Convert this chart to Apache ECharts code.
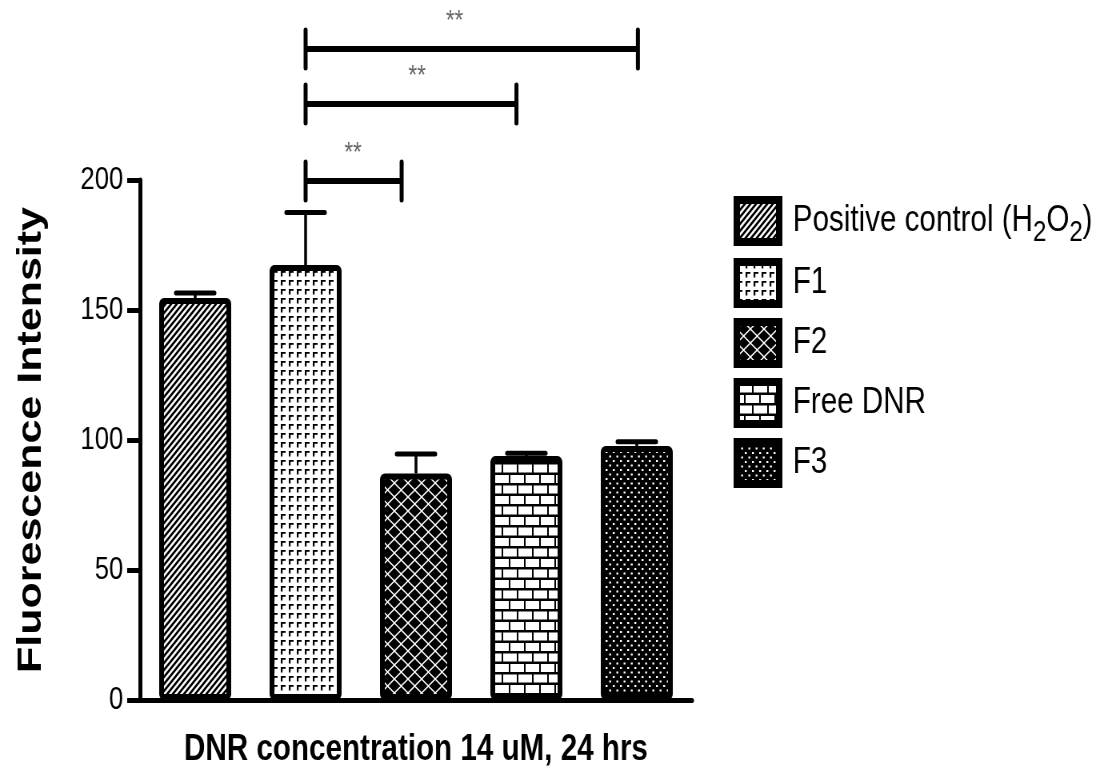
<!DOCTYPE html>
<html><head><meta charset="utf-8">
<script src="https://cdn.jsdelivr.net/npm/echarts@6/dist/echarts.min.js"></script>
<style>
html,body{margin:0;padding:0;background:#fff;overflow:hidden;width:1100px;height:775px}
#wrap{width:1100px;height:775px;overflow:hidden;position:relative}
#chart{width:1375px;height:775px;transform:scaleX(0.8);transform-origin:0 0}
</style></head>
<body><div id="wrap"><div id="chart"></div></div>
<script>
// ---- data ----
const categories = ['Positive control (H2O2)', 'F1', 'F2', 'Free DNR', 'F3'];
const means = [154.6, 167.3, 87.1, 93.8, 97.7];
const sem = [1.9, 20.2, 7.5, 1.1, 1.6];
const yTicks = [0, 50, 100, 150, 200];
// [bracket start (category position), bracket end, bracket level (y value), label, label position]
const comparisons = [
  [1, 1.87, 199.6, '**', 1.43],
  [1, 2.91, 229.2, '**', 2.01],
  [1, 4.01, 250.4, '**', 2.35]
];
const xTitle = 'DNR concentration 14 uM, 24 hrs';
const yTitle = 'Fluorescence Intensity';

// ---- patterns ----
function mk(w, h, draw) {
  const c = document.createElement('canvas'); c.width = w; c.height = h;
  const g = c.getContext('2d'); draw(g, w, h);
  return { image: c, repeat: 'repeat' };
}
const patDiag = mk(7, 7, (g, w, h) => {
  g.fillStyle = '#fff'; g.fillRect(0, 0, w, h);
  g.strokeStyle = '#000'; g.lineWidth = 2.6; g.beginPath();
  for (let k = -1; k <= 1; k++) { g.moveTo(k * w - 1, h + 1); g.lineTo(k * w + w + 1, -1); }
  g.stroke();
});
const patCorner = mk(10, 9, (g, w, h) => {
  g.fillStyle = '#fff'; g.fillRect(0, 0, w, h);
  g.fillStyle = '#000';
  g.fillRect(1, 1, 6, 1.8); g.fillRect(1, 1, 2.2, 5.5);
});
const patDiamond = mk(17, 14, (g, w, h) => {
  g.fillStyle = '#fff'; g.fillRect(0, 0, w, h);
  g.fillStyle = '#000';
  const d = (cx, cy) => { g.beginPath(); g.moveTo(cx, cy - 6.1); g.lineTo(cx + 7.4, cy); g.lineTo(cx, cy + 6.1); g.lineTo(cx - 7.4, cy); g.closePath(); g.fill(); };
  d(8.5, 7); d(0, 0); d(17, 0); d(0, 14); d(17, 14);
});
const patBrick = mk(19, 21, (g, w, h) => {
  g.fillStyle = '#000'; g.fillRect(0, 0, w, h);
  g.fillStyle = '#fff';
  g.fillRect(2, 2.5, 17, 8);
  g.fillRect(0, 13, 9, 8); g.fillRect(11, 13, 8, 8);
});
const patDots = mk(9, 9, (g, w, h) => {
  g.fillStyle = '#000'; g.fillRect(0, 0, w, h);
  g.fillStyle = '#fff';
  g.fillRect(1, 1, 2.4, 2); g.fillRect(5.5, 5.5, 2.4, 2);
});
const patterns = [patDiag, patCorner, patDiamond, patBrick, patDots];

const FONT = '"Liberation Sans", Arial, sans-serif';
const chart = echarts.init(document.getElementById('chart'), null, { renderer: 'canvas' });

const barSeries = categories.map((name, i) => ({
  name, type: 'bar', barWidth: 90, barGap: '-100%',
  data: means.map((v, j) => (j === i ? v : '-')),
  itemStyle: { color: patterns[i], borderColor: '#000', borderWidth: 6, borderRadius: 3 },
  emphasis: { disabled: true }, z: 2
}));

const errSeries = {
  type: 'custom', name: 'sem', silent: true, z: 3,
  data: means.map((v, i) => [i, v, v + sem[i]]),
  renderItem: (params, api) => {
    const x = api.value(0);
    const p0 = api.coord([x, api.value(1)]);
    const p1 = api.coord([x, api.value(2)]);
    return { type: 'group', children: [
      { type: 'line', shape: { x1: p0[0], y1: p0[1], x2: p1[0], y2: p1[1] }, style: { stroke: '#000', lineWidth: 3.5 } },
      { type: 'line', shape: { x1: p1[0] - 24, y1: p1[1], x2: p1[0] + 24, y2: p1[1] }, style: { stroke: '#000', lineWidth: 5, lineCap: 'round' } }
    ] };
  }
};

const sigSeries = {
  type: 'custom', name: 'sig', silent: true, z: 4, clip: false,
  data: comparisons.map(c => [Math.floor(c[0]), c[2]]),
  renderItem: (params, api) => {
    const c = comparisons[params.dataIndex];
    const base = api.coord([0, c[2]]);
    const band = api.size([1, 0])[0];
    const px = (v) => base[0] + v * band;
    const y = base[1];
    const xa = px(c[0]), xb = px(c[1]);
    const tick = (x) => ({ type: 'line', shape: { x1: x, y1: y - 19, x2: x, y2: y + 19 }, style: { stroke: '#000', lineWidth: 5, lineCap: 'round' } });
    return { type: 'group', children: [
      { type: 'line', shape: { x1: xa, y1: y, x2: xb, y2: y }, style: { stroke: '#000', lineWidth: 6 } },
      tick(xa), tick(xb),
      { type: 'text', x: px(c[4]), y: y - 28, style: { text: c[3], fill: '#666', font: '28px ' + FONT, align: 'center', verticalAlign: 'middle' } }
    ] };
  }
};

chart.setOption({
  animation: false,
  backgroundColor: '#fff',
  textStyle: { fontFamily: FONT, color: '#000' },
  grid: { left: 175, right: 510, top: 180, bottom: 75, containLabel: false },
  legend: {
    data: categories, orient: 'vertical', left: 912, top: 189, icon: 'rect',
    itemWidth: 53, itemHeight: 42, itemGap: 10, selectedMode: false,
    itemStyle: { borderColor: '#000', borderWidth: 8 },
    formatter: (name) => name === categories[0] ? '{n|Positive control (H}{s|2}{n|O}{s|2}{n|)}' : '{n|' + name + '}',
    textStyle: {
      fontFamily: FONT, color: '#000', fontSize: 37, padding: [0, 0, 0, 12],
      rich: {
        n: { fontSize: 37, fontFamily: FONT, color: '#000', lineHeight: 42, verticalAlign: 'middle' },
        s: { fontSize: 30, fontFamily: FONT, color: '#000', lineHeight: 42, padding: [24, 0, 0, 0], verticalAlign: 'middle' }
      }
    }
  },
  xAxis: {
    type: 'category', data: categories,
    name: xTitle, nameLocation: 'middle', nameGap: 31,
    nameTextStyle: { fontSize: 37, fontWeight: 'bold', color: '#000', fontFamily: FONT },
    axisLine: { lineStyle: { color: '#000', width: 5 } },
    axisTick: { alignWithLabel: true, length: 20, lineStyle: { color: '#000', width: 5 } },
    axisLabel: { show: false }
  },
  yAxis: {
    type: 'value', min: yTicks[0], max: yTicks[yTicks.length - 1], interval: yTicks[1] - yTicks[0],
    name: yTitle, nameLocation: 'middle', nameGap: 114, nameRotate: 90,
    nameTextStyle: { fontSize: 43, fontWeight: 'bold', color: '#000', fontFamily: FONT },
    axisLine: { show: true, lineStyle: { color: '#000', width: 5 } },
    axisTick: { show: true, length: 16, lineStyle: { color: '#000', width: 5 } },
    axisLabel: { fontSize: 32, color: '#000', margin: 21, fontFamily: FONT },
    splitLine: { show: false }
  },
  series: [...barSeries, errSeries, sigSeries]
});
</script>
</body></html>
